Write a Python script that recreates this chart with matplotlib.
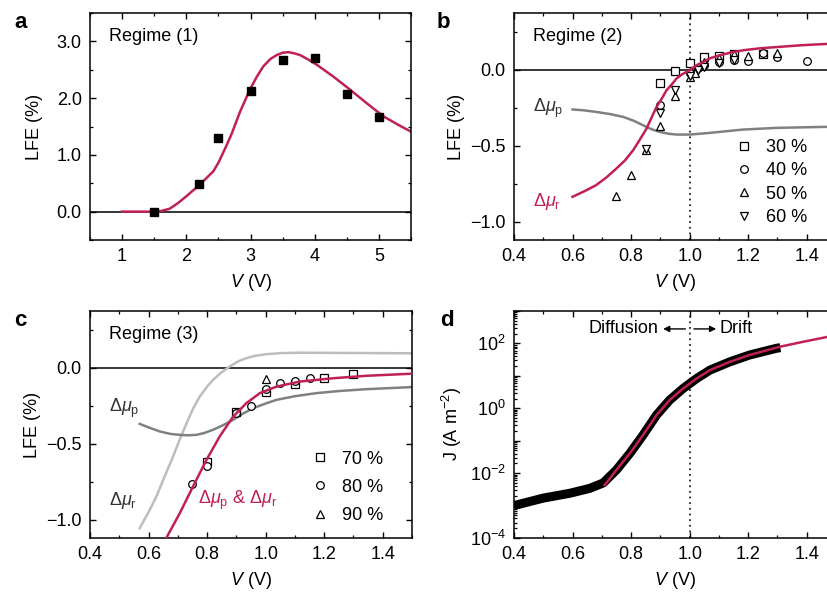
import numpy as np
import matplotlib
matplotlib.use('Agg')
import matplotlib.pyplot as plt
from matplotlib.ticker import MultipleLocator, FuncFormatter, LogLocator, NullFormatter

plt.rcParams['font.family'] = ['Liberation Sans', 'DejaVu Sans']
plt.rcParams['mathtext.fontset'] = 'custom'
plt.rcParams['mathtext.rm'] = 'Liberation Sans'
plt.rcParams['mathtext.it'] = 'Liberation Sans:italic'
plt.rcParams['font.size'] = 13
plt.rcParams['axes.linewidth'] = 1.1

RED = '#C01F58'
GRAY = '#808080'
LIGHT = '#BDBDBD'
FS = 13

# panel a: regime (1)
a_v = [1.5, 2.2, 2.5, 3.0, 3.5, 4.0, 4.5, 5.0]
a_lfe = [0.0, 0.48, 1.30, 2.12, 2.68, 2.70, 2.08, 1.66]
a_fit_v = [1.0, 1.3, 1.47, 1.6, 1.74, 1.87, 2.0, 2.21, 2.42, 2.5, 2.62, 2.71, 2.83, 2.99,
           3.1, 3.2, 3.31, 3.41, 3.5, 3.59, 3.68, 3.77, 3.9, 4.03, 4.29, 4.55, 4.81, 5.07, 5.3, 5.5]
a_fit_lfe = [0.0, 0.0, 0.0, 0.01, 0.05, 0.15, 0.27, 0.475, 0.71, 0.86, 1.15, 1.38, 1.74, 2.15,
             2.38, 2.56, 2.69, 2.76, 2.80, 2.81, 2.79, 2.76, 2.68, 2.59, 2.38, 2.15, 1.91, 1.68, 1.53, 1.41]

# panel b: regime (2)
b_r_v = [0.6, 0.64, 0.68, 0.715, 0.75, 0.78, 0.807, 0.83, 0.853, 0.87, 0.887, 0.905, 0.921,
         0.94, 0.955, 0.975, 1.0, 1.02, 1.046, 1.07, 1.103, 1.14, 1.183, 1.24, 1.297, 1.38, 1.5]
b_r_lfe = [-0.836, -0.80, -0.76, -0.71, -0.65, -0.595, -0.53, -0.46, -0.387, -0.315, -0.245,
           -0.19, -0.136, -0.095, -0.059, -0.03, -0.005, 0.025, 0.05, 0.075, 0.094, 0.112,
           0.127, 0.14, 0.148, 0.16, 0.172]
b_p_v = [0.6, 0.64, 0.68, 0.73, 0.773, 0.81, 0.841, 0.87, 0.898, 0.93, 0.955, 1.0, 1.069, 1.183, 1.297, 1.5]
b_p_lfe = [-0.262, -0.268, -0.278, -0.293, -0.311, -0.337, -0.366, -0.392, -0.41, -0.422,
           -0.427, -0.427, -0.416, -0.394, -0.383, -0.375]
v30 = [0.9, 0.95, 1.0, 1.05, 1.1, 1.15, 1.25]
l30 = [-0.09, -0.01, 0.045, 0.08, 0.087, 0.105, 0.10]
v40 = [0.9, 1.0, 1.03, 1.05, 1.1, 1.15, 1.2, 1.25, 1.3, 1.4]
l40 = [-0.235, -0.02, 0.01, 0.03, 0.05, 0.066, 0.057, 0.11, 0.08, 0.057]
v50 = [0.75, 0.8, 0.85, 0.9, 0.95, 1.0, 1.02, 1.05, 1.1, 1.15, 1.2, 1.3]
l50 = [-0.83, -0.69, -0.53, -0.37, -0.175, -0.05, -0.02, 0.05, 0.075, 0.1, 0.09, 0.11]
v60 = [0.85, 0.9, 0.95, 1.0, 1.03, 1.05, 1.1, 1.15]
l60 = [-0.52, -0.285, -0.135, -0.04, 0.0, 0.02, 0.045, 0.06]

# panel c: regime (3)
c_pr_v = [0.655, 0.707, 0.752, 0.798, 0.843, 0.889, 0.934, 0.98, 1.037, 1.116, 1.23, 1.343, 1.5]
c_pr_lfe = [-1.14, -0.956, -0.781, -0.606, -0.453, -0.322, -0.234, -0.168, -0.125, -0.092,
            -0.070, -0.054, -0.040]
c_r_v = [0.57, 0.6, 0.627, 0.655, 0.684, 0.707, 0.73, 0.752, 0.775, 0.8, 0.82, 0.85, 0.877,
         0.905, 0.934, 0.965, 1.002, 1.05, 1.116, 1.3, 1.5]
c_r_lfe = [-1.055, -0.95, -0.847, -0.715, -0.584, -0.47, -0.365, -0.27, -0.19, -0.125, -0.081,
           -0.03, 0.007, 0.04, 0.062, 0.078, 0.088, 0.095, 0.098, 0.096, 0.094]
c_p_v = [0.57, 0.6, 0.639, 0.675, 0.707, 0.735, 0.764, 0.79, 0.82, 0.855, 0.889, 0.92, 0.957,
         1.0, 1.037, 1.1, 1.173, 1.25, 1.343, 1.5]
c_p_lfe = [-0.37, -0.393, -0.42, -0.436, -0.442, -0.445, -0.442, -0.43, -0.409, -0.378, -0.343,
           -0.305, -0.267, -0.236, -0.212, -0.188, -0.168, -0.154, -0.142, -0.128]
v70 = [0.8, 0.9, 1.0, 1.1, 1.2, 1.3]
l70 = [-0.62, -0.29, -0.16, -0.105, -0.07, -0.045]
v80 = [0.75, 0.8, 0.9, 0.95, 1.0, 1.05, 1.1, 1.15]
l80 = [-0.765, -0.645, -0.30, -0.25, -0.14, -0.10, -0.09, -0.07]
v90 = [1.0]
l90 = [-0.075]

# panel d: J-V
d_v = [0.4, 0.5, 0.591, 0.659, 0.705, 0.75, 0.796, 0.841, 0.887, 0.932, 0.978, 1.024, 1.069,
       1.137, 1.205, 1.297, 1.31]
d_j = [1.0e-3, 1.7e-3, 2.4e-3, 3.4e-3, 5.0e-3, 1.26e-2, 4.1e-2, 0.15, 0.62, 1.8, 4.1, 8.3, 15,
       27, 44, 71, 74]
d_fit_v = [0.71, 0.75, 0.796, 0.841, 0.887, 0.932, 0.978, 1.024, 1.069, 1.137, 1.205, 1.308, 1.387, 1.5]
d_fit_j = [4.3e-3, 1.26e-2, 4.1e-2, 0.15, 0.62, 1.8, 4.1, 8.3, 15, 27, 44, 79, 112, 180]

W, H = 827, 595
fig = plt.figure(figsize=(W / 100, H / 100), dpi=100)


def box(l, t, w, h):
    return [l / W, 1 - (t + h) / H, w / W, h / H]


def one_dec(x, pos):
    return f'{x:.1f}'.replace('-', '\u2212')


ax_a = fig.add_axes(box(90, 13, 321, 227))
ax_b = fig.add_axes(box(514, 13, 322, 227))
ax_c = fig.add_axes(box(90, 311, 322, 227))
ax_d = fig.add_axes(box(514, 311, 322, 227))

for ax in (ax_a, ax_b, ax_c, ax_d):
    ax.tick_params(which='both', direction='in', top=True, right=True, labelsize=FS)
    ax.tick_params(which='major', length=4.5, width=1.0, pad=6)
    ax.tick_params(which='minor', length=2.5, width=0.9)
    ax.set_xlabel(r'$V$ (V)', labelpad=5, fontsize=FS)

mk = dict(linestyle='none', mfc='white', mec='black', mew=0.9, ms=5.5)

# a
ax_a.axhline(0, color='black', lw=1.1, zorder=1)
ax_a.plot(a_fit_v, a_fit_lfe, color=RED, lw=1.8, zorder=2)
ax_a.plot(a_v, a_lfe, 's', color='black', ms=6, zorder=3)
ax_a.set_xlim(0.5, 5.5)
ax_a.set_ylim(-0.5, 3.5)
ax_a.xaxis.set_major_locator(MultipleLocator(1))
ax_a.xaxis.set_minor_locator(MultipleLocator(0.5))
ax_a.yaxis.set_major_locator(MultipleLocator(1))
ax_a.yaxis.set_minor_locator(MultipleLocator(0.5))
ax_a.yaxis.set_major_formatter(FuncFormatter(one_dec))
ax_a.set_ylabel('LFE (%)', fontsize=FS, labelpad=10)
ax_a.text(0.06, 0.935, 'Regime (1)', transform=ax_a.transAxes, va='top', ha='left', fontsize=FS)

# b
ax_b.axhline(0, color='black', lw=1.1, zorder=1)
ax_b.axvline(1.0, color='black', lw=1.1, ls=(0, (1.2, 2.5)), zorder=1)
ax_b.plot(b_p_v, b_p_lfe, color=GRAY, lw=1.8, zorder=2)
ax_b.plot(b_r_v, b_r_lfe, color=RED, lw=1.8, zorder=4)
h30, = ax_b.plot(v30, l30, marker='s', **mk, zorder=3)
h40, = ax_b.plot(v40, l40, marker='o', **mk, zorder=3)
h50, = ax_b.plot(v50, l50, marker='^', **mk, zorder=3)
h60, = ax_b.plot(v60, l60, marker='v', **mk, zorder=3)
ax_b.set_xlim(0.4, 1.5)
ax_b.set_ylim(-1.12, 0.372)
ax_b.xaxis.set_major_locator(MultipleLocator(0.2))
ax_b.xaxis.set_minor_locator(MultipleLocator(0.1))
ax_b.xaxis.set_major_formatter(FuncFormatter(one_dec))
ax_b.yaxis.set_major_locator(MultipleLocator(0.5))
ax_b.yaxis.set_minor_locator(MultipleLocator(0.25))
ax_b.yaxis.set_major_formatter(FuncFormatter(one_dec))
ax_b.set_ylabel('LFE (%)', fontsize=FS, labelpad=4)
ax_b.text(0.06, 0.935, 'Regime (2)', transform=ax_b.transAxes, va='top', ha='left', fontsize=FS)
ax_b.text(0.465, -0.255, r'$\Delta\mu_{\rm p}$', color='#333333', fontsize=FS, va='center')
ax_b.text(0.465, -0.865, r'$\Delta\mu_{\rm r}$', color=RED, fontsize=FS, va='center')
ax_b.legend([h30, h40, h50, h60], ['30 %', '40 %', '50 %', '60 %'], loc='lower left',
            bbox_to_anchor=(0.665, 0.03), frameon=False, handlelength=1.0, handletextpad=0.7,
            labelspacing=0.35, fontsize=FS, borderaxespad=0.0)

# c
ax_c.axhline(0, color='black', lw=1.1, zorder=1)
ax_c.plot(c_r_v, c_r_lfe, color=LIGHT, lw=1.8, zorder=2)
ax_c.plot(c_p_v, c_p_lfe, color=GRAY, lw=1.8, zorder=2)
ax_c.plot(c_pr_v, c_pr_lfe, color=RED, lw=1.8, zorder=4)
h70, = ax_c.plot(v70, l70, marker='s', **mk, zorder=3)
h80, = ax_c.plot(v80, l80, marker='o', **mk, zorder=3)
h90, = ax_c.plot(v90, l90, marker='^', **mk, zorder=3)
ax_c.set_xlim(0.4, 1.5)
ax_c.set_ylim(-1.12, 0.372)
ax_c.xaxis.set_major_locator(MultipleLocator(0.2))
ax_c.xaxis.set_minor_locator(MultipleLocator(0.1))
ax_c.xaxis.set_major_formatter(FuncFormatter(one_dec))
ax_c.yaxis.set_major_locator(MultipleLocator(0.5))
ax_c.yaxis.set_minor_locator(MultipleLocator(0.25))
ax_c.yaxis.set_major_formatter(FuncFormatter(one_dec))
ax_c.set_ylabel('LFE (%)', fontsize=FS, labelpad=4)
ax_c.text(0.06, 0.935, 'Regime (3)', transform=ax_c.transAxes, va='top', ha='left', fontsize=FS)
ax_c.text(0.465, -0.27, r'$\Delta\mu_{\rm p}$', color='#333333', fontsize=FS, va='center')
ax_c.text(0.465, -0.875, r'$\Delta\mu_{\rm r}$', color='#333333', fontsize=FS, va='center')
ax_c.text(0.77, -0.875, r'$\Delta\mu_{\rm p}$ & $\Delta\mu_{\rm r}$', color=RED, fontsize=FS, va='center')
ax_c.legend([h70, h80, h90], ['70 %', '80 %', '90 %'], loc='lower left',
            bbox_to_anchor=(0.665, 0.03), frameon=False, handlelength=1.0, handletextpad=0.7,
            labelspacing=0.62, fontsize=FS, borderaxespad=0.0)

# d
ax_d.set_yscale('log')
ax_d.axvline(1.0, color='black', lw=1.1, ls=(0, (1.2, 2.5)), zorder=1)
ax_d.plot(d_v, d_j, color='black', lw=6.5, solid_capstyle='butt', zorder=2)
ax_d.plot(d_fit_v, d_fit_j, color=RED, lw=1.8, zorder=3)
ax_d.set_xlim(0.4, 1.5)
ax_d.xaxis.set_major_locator(MultipleLocator(0.2))
ax_d.xaxis.set_minor_locator(MultipleLocator(0.1))
ax_d.xaxis.set_major_formatter(FuncFormatter(one_dec))
ax_d.yaxis.set_minor_locator(LogLocator(base=10, subs=np.arange(2, 10), numticks=20))
ax_d.yaxis.set_minor_formatter(NullFormatter())
ax_d.set_yticks([1e-4, 1e-3, 1e-2, 1e-1, 1e0, 1e1, 1e2, 1e3])
ax_d.set_yticklabels([r'10$^{-4}$', '', r'10$^{-2}$', '', r'10$^{0}$', '', r'10$^{2}$', ''])
ax_d.set_ylim(1e-4, 1e3)
ax_d.set_ylabel(r'J (A m$^{-2}$)', fontsize=FS, labelpad=4)
ax_d.annotate('', xy=(0.9, 280), xytext=(0.995, 280),
              arrowprops=dict(arrowstyle='-|>', color='black', lw=1.0, mutation_scale=9))
ax_d.annotate('', xy=(1.1, 280), xytext=(1.005, 280),
              arrowprops=dict(arrowstyle='-|>', color='black', lw=1.0, mutation_scale=9))
ax_d.text(0.893, 280, 'Diffusion', ha='right', va='center', fontsize=FS)
ax_d.text(1.103, 280, 'Drift', ha='left', va='center', fontsize=FS)

for lab, x, y in (('a', 14, 12), ('b', 437, 12), ('c', 14, 310), ('d', 440, 310)):
    fig.text(x / W, 1 - y / H, lab, fontsize=16, fontweight='bold', va='top', ha='left')

fig.savefig('out.png', dpi=100)
